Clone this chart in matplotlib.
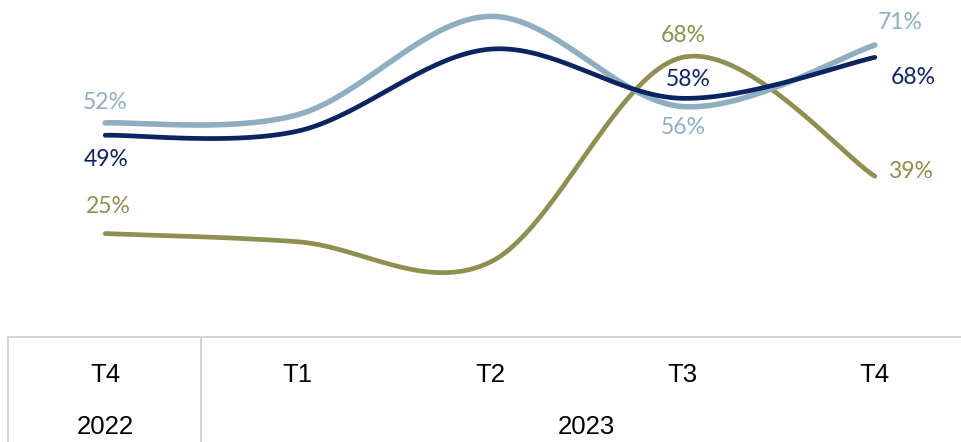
import matplotlib.pyplot as plt
import numpy as np

# quarters and values (%)
quarters = ["T4", "T1", "T2", "T3", "T4"]
years = ["2022", "2023"]
light_vals = [52, 54, 78, 56, 71]
dark_vals = [49, 50, 70, 58, 68]
olive_vals = [25, 23, 18, 68, 39]

light_col = "#8FAFC0"
dark_col = "#0D2463"
olive_col = "#8F8F52"


def smooth(xs, ys, n=40):
    """Catmull-Rom style smoothing (like a spreadsheet 'smoothed line')."""
    xs = np.asarray(xs, float)
    ys = np.asarray(ys, float)
    px = np.concatenate([[xs[0]], xs, [xs[-1]]])
    py = np.concatenate([[ys[0]], ys, [ys[-1]]])
    out_x, out_y = [], []
    t = np.linspace(0, 1, n)
    for i in range(1, len(px) - 2):
        x0, x1, x2, x3 = px[i - 1], px[i], px[i + 1], px[i + 2]
        y0, y1, y2, y3 = py[i - 1], py[i], py[i + 1], py[i + 2]
        cx1, cy1 = x1 + (x2 - x0) / 6, y1 + (y2 - y0) / 6
        cx2, cy2 = x2 - (x3 - x1) / 6, y2 - (y3 - y1) / 6
        bx = (1 - t)**3 * x1 + 3 * (1 - t)**2 * t * cx1 + 3 * (1 - t) * t**2 * cx2 + t**3 * x2
        by = (1 - t)**3 * y1 + 3 * (1 - t)**2 * t * cy1 + 3 * (1 - t) * t**2 * cy2 + t**3 * y2
        out_x.append(bx)
        out_y.append(by)
    return np.concatenate(out_x), np.concatenate(out_y)


W, H = 961, 442
fig = plt.figure(figsize=(W / 100, H / 100), dpi=100)
ax = fig.add_axes([9 / W, (H - 336) / H, 962 / W, 336 / H])
ax.set_xlim(-0.5, 4.5)
ax.set_ylim(0, 82)
ax.axis("off")

x = np.arange(len(quarters))
for vals, col, lw in [(olive_vals, olive_col, 3.4), (light_vals, light_col, 4.0), (dark_vals, dark_col, 3.4)]:
    sx, sy = smooth(x, vals)
    ax.plot(sx, sy, color=col, lw=lw, solid_capstyle="round", clip_on=False)

fs = 16.5
fam = ["Lato", "DejaVu Sans"]


def lab(i, vals, col, dx, dy):
    ax.annotate(f"{vals[i]}%", xy=(x[i], vals[i]), xytext=(dx, dy), textcoords="offset pixels",
                ha="center", va="center", color=col, fontsize=fs, family=fam)


lab(0, light_vals, light_col, 0, 20)
lab(0, dark_vals, dark_col, 1, -24)
lab(0, olive_vals, olive_col, 3, 27)
lab(3, olive_vals, olive_col, 1, 22)
lab(3, dark_vals, dark_col, 6, 19)
lab(3, light_vals, light_col, 1, -21)
lab(4, light_vals, light_col, 25, 23)
lab(4, dark_vals, dark_col, 38, -20)
lab(4, olive_vals, olive_col, 36, 5)

# category table under the chart
grid = "#D4D4D4"
fig.add_artist(plt.Line2D([8 / W, 1], [(H - 337) / H] * 2, color=grid, lw=1.5))
for xp in (8, 201):
    fig.add_artist(plt.Line2D([xp / W] * 2, [0, (H - 337) / H], color=grid, lw=1.5))

tfam = ["Liberation Sans Narrow", "Liberation Sans", "DejaVu Sans"]
tfs = 18.5
for i, q in enumerate(quarters):
    ax.annotate(q, xy=(x[i], 0), xycoords=("data", "axes fraction"), xytext=(0, -39),
                textcoords="offset pixels", ha="center", va="center", fontsize=tfs,
                family=tfam, color="black", annotation_clip=False)
ax.annotate(years[0], xy=(x[0], 0), xycoords=("data", "axes fraction"), xytext=(0, -91),
            textcoords="offset pixels", ha="center", va="center", fontsize=tfs,
            family=tfam, color="black", annotation_clip=False)
ax.annotate(years[1], xy=((x[1] + x[4]) / 2, 0), xycoords=("data", "axes fraction"), xytext=(0, -91),
            textcoords="offset pixels", ha="center", va="center", fontsize=tfs,
            family=tfam, color="black", annotation_clip=False)

fig.savefig("out.png", dpi=100)
